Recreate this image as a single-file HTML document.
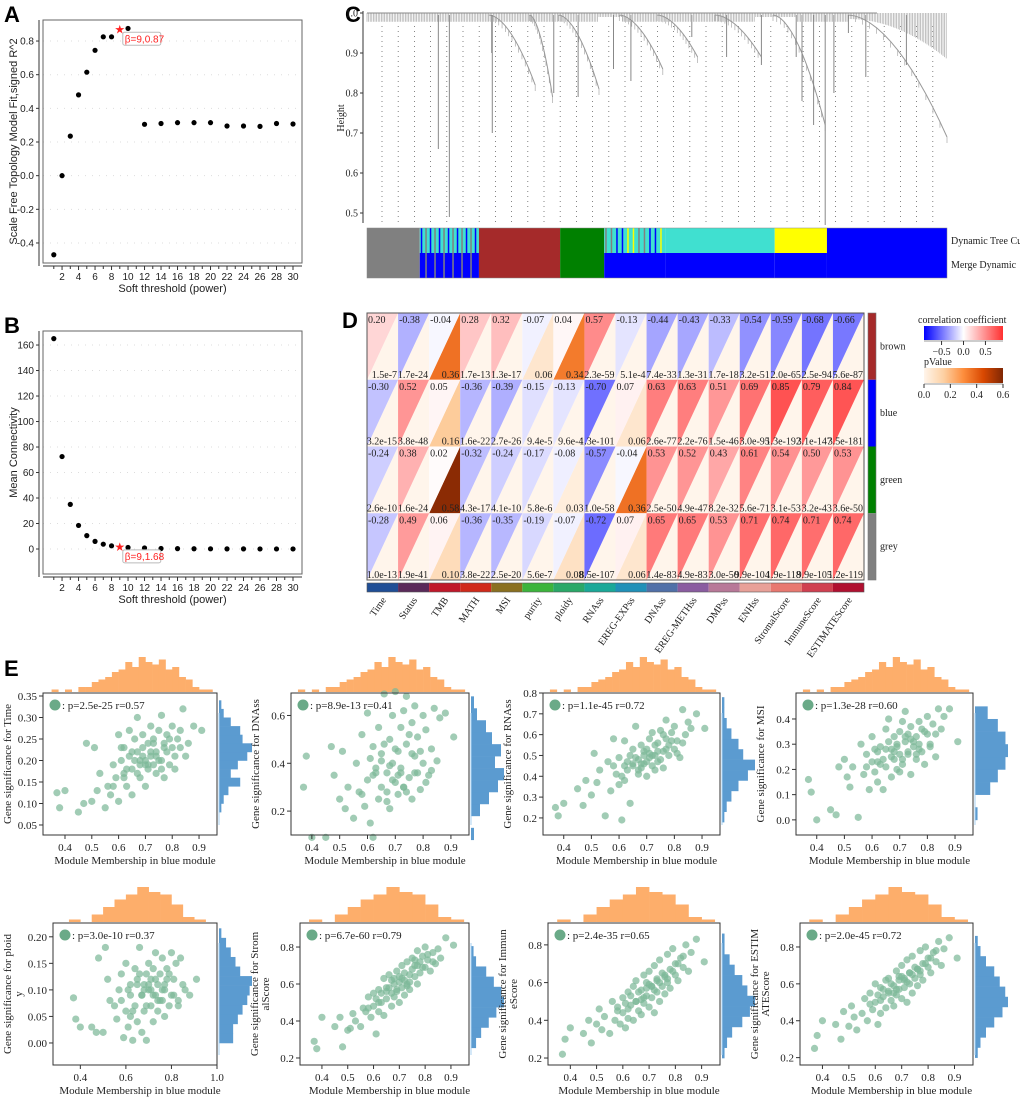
<!DOCTYPE html>
<html><head><meta charset="utf-8"><style>
body{margin:0;background:#fff}
svg{display:block}
text{font-family:"Liberation Serif",serif;fill:#222}
.sans{font-family:"Liberation Sans",sans-serif}
.pl{font-family:"Liberation Sans",sans-serif;font-weight:bold;font-size:22px;fill:#000}
</style></head><body>
<svg id="fig" width="1020" height="1098" viewBox="0 0 1020 1098" xmlns="http://www.w3.org/2000/svg">
<text class="pl" x="4" y="22">A</text>
<text class="pl" x="4" y="333">B</text>
<text class="pl" x="345" y="22">C</text>
<text class="pl" x="342" y="328">D</text>
<text class="pl" x="4" y="676">E</text>
<g id="gA"></g>
<g id="gB"></g>
<g id="gC"></g>
<g id="gD"></g>
<g id="gE"></g>
</svg>
<script>
// ---------- Panel A/B data ----------
const powers = [1,2,3,4,5,6,7,8,9,10,12,14,16,18,20,22,24,26,28,30];
const fitR2 = [-0.47,0.0,0.235,0.48,0.615,0.745,0.825,0.825,0.87,0.875,0.305,0.31,0.315,0.315,0.315,0.295,0.295,0.293,0.31,0.307];
const meanK = [165,72.5,35,18.5,10.5,6,3.8,2.5,1.68,1.2,0.8,0.4,0.3,0.2,0.15,0.1,0.1,0.05,0.05,0.05];
const xTicksAB = [2,4,6,8,10,12,14,16,18,20,22,24,26,28,30];
const yTicksA = [-0.4,-0.2,0.0,0.2,0.4,0.6,0.8];
const yTicksB = [0,20,40,60,80,100,120,140,160];
// ---------- Panel C data ----------
const cTicks = [0.5,0.6,0.7,0.8,0.9,1.0];
const treeModules = ["grey","mixA","brown","green","mixB","turquoise","yellow","blue"];
const treeModuleEnds = [0.091,0.193,0.333,0.409,0.514,0.703,0.793,1.0];
const dropLeaves = [[0.123,0.66],[0.142,0.49],[0.215,0.90],[0.216,0.70],[0.322,0.80],[0.364,0.79],[0.425,0.86],[0.455,0.83],[0.56,0.94],[0.62,0.89],[0.68,0.87],[0.74,0.89],[0.75,0.78],[0.77,0.72],[0.79,0.47],[0.805,0.80],[0.83,0.95],[0.86,0.84],[0.93,0.87]];
const descClusters = [[0.21,0.29,0.82],[0.28,0.32,0.79],[0.33,0.40,0.81],[0.435,0.51,0.86],[0.50,0.57,0.89],[0.60,0.68,0.89],[0.70,0.79,0.72],[0.83,1.0,0.69]];
// ---------- Panel D data ----------
const traits = ["Time","Status","TMB","MATH","MSI","purity","ploidy","RNAss","EREG-EXPss","DNAss","EREG-METHss","DMPss","ENHss","StromalScore","ImmuneScore","ESTIMATEScore"];
const modules = ["brown","blue","green","grey"];
const corrBrown = [0.20,-0.38,-0.04,0.28,0.32,-0.07,0.04,0.57,-0.13,-0.44,-0.43,-0.33,-0.54,-0.59,-0.68,-0.66];
const corrBlue = [-0.30,0.52,0.05,-0.36,-0.39,-0.15,-0.13,-0.70,0.07,0.63,0.63,0.51,0.69,0.85,0.79,0.84];
const corrGreen = [-0.24,0.38,0.02,-0.32,-0.24,-0.17,-0.08,-0.57,-0.04,0.53,0.52,0.43,0.61,0.54,0.50,0.53];
const corrGrey = [-0.28,0.49,0.06,-0.36,-0.35,-0.19,-0.07,-0.72,0.07,0.65,0.65,0.53,0.71,0.74,0.71,0.74];
const pBrown = ["1.5e-7","1.7e-24","0.36","1.7e-13","1.3e-17","0.06","0.34","2.3e-59","5.1e-4","7.4e-33","1.3e-31","1.7e-18","3.2e-51","2.0e-65","2.5e-94","5.6e-87"];
const pBlue = ["3.2e-15","3.8e-48","0.16","1.6e-22","2.7e-26","9.4e-5","9.6e-4","1.3e-101","0.06","2.6e-77","2.2e-76","1.5e-46","3.0e-95","1.3e-192","3.1e-147","3.5e-181"];
const pGreen = ["2.6e-10","1.6e-24","0.58","4.3e-17","4.1e-10","5.8e-6","0.03","1.0e-58","0.36","2.5e-50","4.9e-47","8.2e-32","5.6e-71","3.1e-53","3.2e-43","3.6e-50"];
const pGrey = ["1.0e-13","1.9e-41","0.10","3.8e-22","2.5e-20","5.6e-7","0.08","8.5e-107","0.06","1.4e-83","4.9e-83","3.0e-50","9.9e-104","1.9e-118","9.9e-105","1.2e-119"];
// ---------- Panel E data ----------
const mmBlue = [0.37,0.38,0.40,0.45,0.47,0.48,0.50,0.51,0.52,0.53,0.55,0.56,0.57,0.58,0.59,0.60,0.60,0.61,0.62,0.62,0.63,0.64,0.64,0.65,0.65,0.66,0.67,0.67,0.68,0.68,0.69,0.69,0.70,0.70,0.71,0.71,0.72,0.72,0.73,0.73,0.74,0.74,0.75,0.76,0.76,0.77,0.77,0.78,0.78,0.79,0.80,0.80,0.81,0.82,0.83,0.84,0.85,0.86,0.88,0.91,0.58,0.61,0.63,0.66,0.67,0.69,0.70,0.72,0.73,0.75,0.77,0.79,0.81,0.62,0.68,0.74,0.76,0.83,0.65,0.71];
const gsTime = [0.125,0.09,0.13,0.08,0.10,0.24,0.105,0.23,0.13,0.17,0.09,0.14,0.12,0.19,0.16,0.26,0.105,0.20,0.17,0.23,0.14,0.21,0.27,0.18,0.12,0.25,0.22,0.30,0.19,0.16,0.21,0.26,0.20,0.14,0.24,0.18,0.28,0.22,0.19,0.25,0.17,0.21,0.27,0.20,0.305,0.24,0.16,0.22,0.26,0.19,0.28,0.23,0.18,0.25,0.27,0.32,0.21,0.24,0.28,0.27,0.14,0.23,0.18,0.20,0.17,0.23,0.19,0.21,0.24,0.20,0.23,0.25,0.21,0.16,0.20,0.22,0.18,0.23,0.22,0.19];
const gsDNAss = [0.30,0.43,0.09,0.09,0.47,0.35,0.25,0.45,0.21,0.30,0.17,0.40,0.28,0.52,0.22,0.61,0.33,0.15,0.47,0.09,0.38,0.25,0.55,0.30,0.44,0.69,0.36,0.28,0.50,0.21,0.40,0.60,0.32,0.70,0.45,0.27,0.55,0.36,0.62,0.30,0.48,0.68,0.34,0.57,0.25,0.43,0.64,0.36,0.51,0.29,0.60,0.40,0.54,0.35,0.46,0.63,0.41,0.59,0.61,0.51,0.27,0.42,0.36,0.48,0.24,0.33,0.46,0.38,0.30,0.52,0.36,0.45,0.32,0.35,0.39,0.28,0.44,0.37,0.41,0.35];
const gsRNAss = [0.25,0.21,0.27,0.34,0.26,0.38,0.31,0.51,0.37,0.43,0.21,0.47,0.33,0.58,0.41,0.36,0.49,0.19,0.45,0.57,0.43,0.27,0.50,0.46,0.53,0.64,0.48,0.41,0.55,0.44,0.50,0.46,0.53,0.40,0.49,0.58,0.45,0.61,0.50,0.43,0.56,0.47,0.62,0.52,0.44,0.58,0.67,0.50,0.55,0.61,0.53,0.64,0.57,0.49,0.72,0.60,0.66,0.63,0.70,0.63,0.45,0.40,0.47,0.49,0.43,0.52,0.47,0.50,0.55,0.48,0.53,0.57,0.51,0.38,0.46,0.52,0.60,0.56,0.45,0.51];
const gsMSI = [0.16,0.11,0.00,0.04,0.02,0.21,0.24,0.17,0.13,0.21,0.01,0.30,0.18,0.26,0.12,0.23,0.33,0.19,0.27,0.15,0.29,0.12,0.24,0.36,0.21,0.40,0.28,0.17,0.33,0.24,0.30,0.20,0.35,0.26,0.39,0.22,0.43,0.31,0.27,0.34,0.18,0.37,0.29,0.33,0.24,0.39,0.30,0.27,0.36,0.22,0.41,0.34,0.29,0.38,0.25,0.44,0.36,0.41,0.44,0.31,0.21,0.28,0.22,0.31,0.25,0.29,0.19,0.33,0.26,0.31,0.28,0.35,0.30,0.23,0.27,0.32,0.26,0.34,0.28,0.24];
const gsPloidy = [0.085,0.045,0.03,0.03,0.02,0.16,0.02,0.18,0.12,0.08,0.07,0.045,0.10,0.13,0.01,0.06,0.15,0.03,0.11,0.09,0.005,0.14,0.07,0.12,0.04,0.18,0.09,0.02,0.11,0.06,0.13,0.005,0.10,0.15,0.07,0.12,0.04,0.14,0.09,0.17,0.06,0.11,0.13,0.08,0.16,0.10,0.05,0.14,0.12,0.07,0.17,0.09,0.12,0.15,0.08,0.16,0.11,0.10,0.09,0.12,0.08,0.10,0.06,0.13,0.09,0.07,0.11,0.09,0.12,0.08,0.11,0.13,0.09,0.05,0.10,0.08,0.10,0.07,0.11,0.10];
const gsStromal = [0.29,0.25,0.42,0.37,0.42,0.26,0.35,0.36,0.44,0.40,0.37,0.47,0.45,0.53,0.42,0.55,0.48,0.33,0.57,0.45,0.50,0.63,0.43,0.52,0.58,0.65,0.55,0.48,0.60,0.53,0.67,0.56,0.61,0.50,0.70,0.58,0.62,0.54,0.72,0.60,0.65,0.57,0.74,0.64,0.70,0.60,0.78,0.66,0.72,0.75,0.69,0.80,0.73,0.67,0.77,0.71,0.79,0.74,0.85,0.81,0.47,0.52,0.55,0.58,0.62,0.57,0.64,0.66,0.59,0.68,0.70,0.69,0.76,0.50,0.63,0.61,0.73,0.72,0.56,0.63];
const gsImmune = [0.22,0.30,0.36,0.33,0.40,0.28,0.38,0.46,0.35,0.42,0.33,0.50,0.40,0.47,0.38,0.52,0.44,0.36,0.55,0.41,0.48,0.58,0.40,0.50,0.61,0.45,0.56,0.43,0.64,0.49,0.53,0.60,0.47,0.66,0.52,0.58,0.44,0.69,0.55,0.62,0.50,0.72,0.58,0.63,0.54,0.75,0.60,0.67,0.57,0.78,0.64,0.70,0.61,0.73,0.68,0.80,0.66,0.76,0.83,0.71,0.45,0.49,0.53,0.55,0.51,0.57,0.59,0.56,0.61,0.65,0.62,0.66,0.70,0.46,0.52,0.60,0.64,0.74,0.50,0.58];
const gsEstimate = [0.25,0.32,0.40,0.38,0.30,0.45,0.37,0.48,0.42,0.35,0.44,0.52,0.40,0.55,0.46,0.60,0.50,0.38,0.58,0.44,0.53,0.62,0.47,0.56,0.63,0.51,0.59,0.48,0.67,0.54,0.57,0.64,0.52,0.70,0.58,0.62,0.50,0.73,0.60,0.66,0.55,0.75,0.63,0.68,0.59,0.78,0.65,0.71,0.62,0.80,0.69,0.74,0.66,0.77,0.72,0.83,0.70,0.79,0.85,0.74,0.49,0.54,0.57,0.60,0.55,0.62,0.64,0.61,0.66,0.69,0.67,0.71,0.74,0.51,0.57,0.65,0.68,0.78,0.55,0.63];
const mmHistRow1 = [1,0,1,0,2,2,4,5,6,8,9,12,10,14,12,11,13,9,10,6,5,2,1,1];
const mmHistRow2 = [1,0,3,6,9,11,14,12,11,7,2,1];
const gsHistTime = [1,2,4,9,5,8,12,14,10,9,5,2,1];
const gsHistDNAss = [1,0,3,6,9,11,8,10,7,5,2,1];
const gsHistRNAss = [1,2,4,7,11,14,9,7,4,2,1,1];
const gsHistMSI = [1,0,6,9,12,13,12,9,5];
const gsHistPloidy = [6,6,8,10,12,13,14,9,7,5,3,1];
const gsHistStromal = [0,2,4,7,10,13,12,9,6,2,1,0];
const gsHistImmune = [1,2,4,8,11,13,10,8,5,3,1,1];
const gsHistEstimate = [1,2,4,7,10,12,11,9,7,4,2,1];

const NS="http://www.w3.org/2000/svg";
function mk(parent,tag,attrs,txt){const e=document.createElementNS(NS,tag);for(const k in attrs)e.setAttribute(k,attrs[k]);if(txt!==undefined)e.textContent=txt;parent.appendChild(e);return e;}
function lin(d0,d1,r0,r1){return v=>r0+(v-d0)/(d1-d0)*(r1-r0);}

// ---------- A & B ----------
function powerPanel(g,box,yd,yt,vals,ylab,lbl,fmt){
  const sx=lin(1,30,53.8,293), sy=lin(yd[0],yd[1],box.b,box.t);
  for(const t of yt){const l=mk(g,'line',{x1:box.l,x2:box.r,y1:sy(t),y2:sy(t),stroke:'#ddd','stroke-dasharray':'1,6'});}
  const fr=mk(g,'rect',{x:box.l,y:box.t,width:box.r-box.l,height:box.b-box.t,fill:'none',stroke:'#666','stroke-width':1});
  
  mk(g,'line',{x1:box.l-4,x2:box.l-4,y1:box.t,y2:box.b+3,stroke:'#333'});
  mk(g,'line',{x1:box.l,x2:box.r,y1:box.b+3,y2:box.b+3,stroke:'#333'});
  for(const t of yt){const y=sy(t);mk(g,'line',{x1:box.l-7,x2:box.l-4,y1:y,y2:y,stroke:'#333'});
    const tx=mk(g,'text',{x:box.l-9,y:y+3.5,'text-anchor':'end','font-size':10,class:'sans'},fmt(t));}
  for(let p=1;p<=30;p++){const x=sx(p);mk(g,'line',{x1:x,x2:x,y1:box.b+3,y2:box.b+(p%2?6:7),stroke:'#333'});}
  for(const t of xTicksAB){const tx=mk(g,'text',{x:sx(t),y:box.b+17,'text-anchor':'middle','font-size':10,class:'sans'},t);}
  const xt=mk(g,'text',{x:(box.l+box.r)/2,y:box.b+29,'text-anchor':'middle','font-size':11,class:'sans'},'Soft threshold (power)');
  
  const yl=mk(g,'text',{x:0,y:0,'text-anchor':'middle','font-size':11,class:'sans',transform:`translate(${box.l-26},${(box.t+box.b)/2}) rotate(-90)`},ylab);
  
  powers.forEach((p,i)=>{
    if(p===9){const s=mk(g,'text',{x:sx(p),y:sy(vals[i])+4,'text-anchor':'middle','font-size':12,style:'fill:#f22'},'★');return;}
    const c=mk(g,'circle',{cx:sx(p),cy:sy(vals[i]),r:2.6,fill:'#000'});
  });
  const i9=powers.indexOf(9);const lx=sx(9)+3,ly=sy(vals[i9])+3;
  const rb=mk(g,'rect',{x:lx,y:ly,width:38,height:13,rx:2,fill:'#fff',stroke:'#bbb'});
  const at=mk(g,'text',{x:lx+2,y:ly+10,'font-size':10,class:'sans',style:'fill:#f22'},lbl);
}
powerPanel(document.getElementById('gA'),{l:43,r:302,t:20,b:263},[-0.519,0.925],yTicksA,fitR2,'Scale Free Topology Model Fit,signed R^2','β=9,0.87',t=>t.toFixed(1));
powerPanel(document.getElementById('gB'),{l:43,r:302,t:331,b:574},[-19.6,171],yTicksB,meanK,'Mean Connectivity','β=9,1.68',t=>t);

// ---------- C ----------
(function(){
  const g=document.getElementById('gC');const L=367,R=947;
  const sy=lin(0.5,1.0,213,13), fx=f=>L+f*(R-L);
  for(let x=382;x<R;x+=16.2){const l=mk(g,'line',{x1:x,x2:x,y1:26,y2:223,stroke:'#666','stroke-dasharray':'1,4','stroke-width':0.8});}
  mk(g,'line',{x1:L-4,x2:L-4,y1:11,y2:223,stroke:'#333'});
  for(const t of cTicks){const y=sy(t);mk(g,'line',{x1:L-7,x2:L-4,y1:y,y2:y,stroke:'#333'});
    const tx=mk(g,'text',{x:L-9,y:y+3.5,'text-anchor':'end','font-size':10},t.toFixed(1));}
  const yl=mk(g,'text',{x:0,y:0,'text-anchor':'middle','font-size':10,transform:`translate(${L-23},118) rotate(-90)`},'Height');
  
  for(let x=L;x<R;x+=1.6){const f=(x-L)/(R-L);const bot=(f>0.4&&f<0.44)||(f>0.67&&f<0.74)?0.99:(f>0.83?0.985-0.1*Math.pow((f-0.83)/0.17,2):0.978);
    mk(g,'line',{x1:x,x2:x,y1:sy(1.0),y2:sy(bot),stroke:'#aaa','stroke-width':0.7});}
  mk(g,'line',{x1:L,x2:R-70,y1:sy(1.0),y2:sy(1.0),stroke:'#888','stroke-width':1});
  for(const c of descClusters){const x0=fx(c[0]),x1=fx(c[1]);let pts=[];const n=14;
    for(let i=0;i<=n;i++){const t=i/n;const x=x0+(x1-x0)*t;const h=0.995-(0.995-c[2])*Math.pow(t,1.8);pts.push(x+','+sy(h));
      mk(g,'line',{x1:x,x2:x,y1:sy(h),y2:sy(h-0.015),stroke:'#aaa','stroke-width':0.7});}
    const pl=mk(g,'polyline',{points:pts.join(' '),fill:'none',stroke:'#999','stroke-width':1});}
  for(const d of dropLeaves){const l=mk(g,'line',{x1:fx(d[0]),x2:fx(d[0]),y1:sy(0.995),y2:sy(d[1]),stroke:'#888','stroke-width':1});}
  const col={grey:'#808080',brown:'#a52a2a',green:'#008000',turquoise:'#40e0d0',yellow:'#ffff00',blue:'#0000ff'};
  const Y1=228,H1=25,Y2=253,H2=25;
  let prev=0;
  treeModules.forEach((m,i)=>{const x0=fx(prev),x1=fx(treeModuleEnds[i]);prev=treeModuleEnds[i];
    if(m==='mixA'||m==='mixB'){
      const r=mk(g,'rect',{x:x0,y:Y1,width:x1-x0,height:H1,fill:'#40e0d0'});
      mk(g,'rect',{x:x0,y:Y2,width:x1-x0,height:H2,fill:'#0000ff'});
      for(let x=x0+1;x<x1-4;x+=(m==='mixA'?4.5:5.5)){const k=Math.round(x)%3;mk(g,'rect',{x:x,y:Y1,width:1.5,height:H1,fill:k===0?'#ffff00':(k===1?'#0000ff':'#808080')});
        if(m==='mixA'&&k!==1)mk(g,'rect',{x:x,y:Y2,width:1.5,height:H2,fill:'#808080'});}
    } else {
      const r=mk(g,'rect',{x:x0,y:Y1,width:x1-x0,height:H1,fill:col[m]});
      const mm=(m==='turquoise'||m==='yellow')?'blue':m;
      const r2=mk(g,'rect',{x:x0,y:Y2,width:x1-x0,height:H2,fill:col[mm]});
    }
  });
  mk(g,'rect',{x:L,y:Y1,width:R-L,height:H1+H2,fill:'none',stroke:'#888','stroke-width':0.5});
  const t1=mk(g,'text',{x:951,y:244,'font-size':10},'Dynamic Tree Cut');
  const t2=mk(g,'text',{x:951,y:268,'font-size':10},'Merge Dynamic');
})();

// ---------- D ----------
(function(){
  const g=document.getElementById('gD');
  const L=367,R=864,T=313,B=580;const cw=(R-L)/traits.length, rh=(B-T)/modules.length;
  const corr=[corrBrown,corrBlue,corrGreen,corrGrey], pv=[pBrown,pBlue,pGreen,pGrey];
  function cc(r){const a=Math.min(1,Math.abs(r))*0.8;const k=Math.round(255*(1-a));return r>=0?`rgb(255,${k},${k})`:`rgb(${k},${k},255)`;}
  const ostops=[[255,245,235],[253,208,162],[253,141,60],[217,72,1],[127,39,4]];
  function pc(p){let t=Math.min(1,p/0.6)*(ostops.length-1);const i=Math.min(ostops.length-2,Math.floor(t));const f=t-i;const a=ostops[i],b=ostops[i+1];return `rgb(${a.map((v,j)=>Math.round(v+(b[j]-v)*f)).join(',')})`;}
  modules.forEach((m,ri)=>{traits.forEach((tr,ci)=>{
    const x0=L+ci*cw,x1=x0+cw,y0=T+ri*rh,y1=y0+rh;const r=corr[ri][ci];const p=parseFloat(pv[ri][ci]);
    const lo=mk(g,'polygon',{points:`${x1},${y0} ${x1},${y1} ${x0},${y1}`,fill:pc(p)});
    const up=mk(g,'polygon',{points:`${x0},${y0} ${x1},${y0} ${x0},${y1}`,fill:cc(r)});
    const t1=mk(g,'text',{x:x0+1,y:y0+10,'font-size':10},r.toFixed(2));
    const t2=mk(g,'text',{x:x1-1,y:y1-2,'font-size':10,'text-anchor':'end'},pv[ri][ci]);
  });
    const mb=mk(g,'rect',{x:868,y:T+ri*rh,width:8,height:rh,fill:{brown:'#a52a2a',blue:'#0000ff',green:'#008000',grey:'#808080'}[m]});
    const ml=mk(g,'text',{x:880,y:T+ri*rh+rh/2+3,'font-size':10},m);
  });
  mk(g,'rect',{x:L,y:T,width:R-L,height:B-T,fill:'none',stroke:'#555','stroke-width':1});
  mk(g,'rect',{x:868,y:T,width:8,height:B-T,fill:'none',stroke:'#777','stroke-width':0.6});
  const tcol=['#1f4e96','#5a2a5a','#c0182a','#d02a1a','#8a7020','#3cb43c','#2aa868','#1aa898','#2090b8','#5070a8','#8a5ca0','#b87898','#e8a098','#e87870','#d04050','#b01030'];
  traits.forEach((tr,ci)=>{const x0=L+ci*cw;
    const s=mk(g,'rect',{x:x0,y:583,width:cw,height:9,fill:tcol[ci]});
    const t=mk(g,'text',{x:0,y:0,'font-size':10,'text-anchor':'end',transform:`translate(${x0+cw/2+4},${600}) rotate(-55)`},tr);});
  mk(g,'rect',{x:L,y:583,width:R-L,height:9,fill:'none',stroke:'#555','stroke-width':0.6});
  const defs=mk(g,'defs',{});
  const lg1=mk(defs,'linearGradient',{id:'gc'});[['0','#0000ff'],['0.5','#ffffff'],['1','#ff3030']].forEach(s=>mk(lg1,'stop',{offset:s[0],'stop-color':s[1]}));
  const lg2=mk(defs,'linearGradient',{id:'gp'});ostops.forEach((s,i)=>mk(lg2,'stop',{offset:i/4,'stop-color':`rgb(${s.join(',')})`}));
  const l1=mk(g,'text',{x:918,y:323,'font-size':10},'correlation coefficient');
  const gr1=mk(g,'rect',{x:924,y:326,width:79,height:14,fill:'url(#gc)'});
  mk(g,'line',{x1:924,x2:1003,y1:341,y2:341,stroke:'#333','stroke-width':0.6});
  const cl=lin(-0.9,0.9,924,1003);[[-0.5,'−0.5'],[0,'0.0'],[0.5,'0.5']].forEach(t=>{mk(g,'line',{x1:cl(t[0]),x2:cl(t[0]),y1:341,y2:345,stroke:'#333'});const tx=mk(g,'text',{x:cl(t[0]),y:355,'text-anchor':'middle','font-size':10},t[1]);});
  const l2=mk(g,'text',{x:924,y:365,'font-size':10},'pValue');
  const gr2=mk(g,'rect',{x:924,y:368,width:79,height:15,fill:'url(#gp)'});
  mk(g,'line',{x1:924,x2:1003,y1:384,y2:384,stroke:'#333','stroke-width':0.6});
  const pl=lin(0,0.6,924,1003);[0,0.2,0.4,0.6].forEach(t=>{mk(g,'line',{x1:pl(t),x2:pl(t),y1:384,y2:388,stroke:'#333'});const tx=mk(g,'text',{x:pl(t),y:398,'text-anchor':'middle','font-size':10},t.toFixed(1));});
})();

// ---------- E ----------
const ePlots=[
 {l:43,r:217,t:693,b:835,xd:[0.318,0.967],xt:[0.4,0.5,0.6,0.7,0.8,0.9],yd:[0.0267,0.357],yt:[0.05,0.10,0.15,0.20,0.25,0.30,0.35],yf:2,ys:gsTime,yh:gsHistTime,h0:0.08,hw:0.02,xh:mmHistRow1,lab:['Gene significance for Time'],st:'p=2.5e-25 r=0.57'},
 {l:291,r:469,t:693,b:835,xd:[0.325,0.965],xt:[0.4,0.5,0.6,0.7,0.8,0.9],yd:[0.1,0.694],yt:[0.2,0.4,0.6],yf:1,ys:gsDNAss,yh:gsHistDNAss,h0:0.08,hw:0.05,xh:mmHistRow1,lab:['Gene significance for DNAss'],st:'p=8.9e-13 r=0.41'},
 {l:543,r:720,t:693,b:835,xd:[0.325,0.965],xt:[0.4,0.5,0.6,0.7,0.8,0.9],yd:[0.118,0.8],yt:[0.2,0.3,0.4,0.5,0.6,0.7,0.8],yf:1,ys:gsRNAss,yh:gsHistRNAss,h0:0.18,hw:0.05,xh:mmHistRow1,lab:['Gene significance for RNAss'],st:'p=1.1e-45 r=0.72'},
 {l:796,r:973,t:693,b:835,xd:[0.325,0.965],xt:[0.4,0.5,0.6,0.7,0.8,0.9],yd:[-0.06,0.503],yt:[0.0,0.1,0.2,0.3,0.4],yf:1,ys:gsMSI,yh:gsHistMSI,h0:0.0,hw:0.05,xh:mmHistRow1,lab:['Gene significance for MSI'],st:'p=1.3e-28 r=0.60'},
 {l:53,r:217,t:923,b:1065,xd:[0.28,1.0],xt:[0.4,0.6,0.8,1.0],yd:[-0.0415,0.226],yt:[0,0.05,0.10,0.15,0.20],yf:2,ys:gsPloidy,yh:gsHistPloidy,h0:0.0,hw:0.018,xh:mmHistRow2,lab:['Gene significance for ploid','y'],st:'p=3.0e-10 r=0.37'},
 {l:300,r:469,t:923,b:1065,xd:[0.315,0.97],xt:[0.4,0.5,0.6,0.7,0.8,0.9],yd:[0.162,0.93],yt:[0.2,0.4,0.6,0.8],yf:1,ys:gsStromal,yh:gsHistStromal,h0:0.2,hw:0.055,xh:mmHistRow2,lab:['Gene significance for Strom','alScore'],st:'p=6.7e-60 r=0.79'},
 {l:548,r:720,t:923,b:1065,xd:[0.315,0.97],xt:[0.4,0.5,0.6,0.7,0.8,0.9],yd:[0.163,0.916],yt:[0.2,0.4,0.6,0.8],yf:1,ys:gsImmune,yh:gsHistImmune,h0:0.2,hw:0.055,xh:mmHistRow2,lab:['Gene significance for Immun','eScore'],st:'p=2.4e-35 r=0.65'},
 {l:800,r:973,t:923,b:1065,xd:[0.315,0.97],xt:[0.4,0.5,0.6,0.7,0.8,0.9],yd:[0.16,0.93],yt:[0.2,0.4,0.6,0.8],yf:1,ys:gsEstimate,yh:gsHistEstimate,h0:0.2,hw:0.055,xh:mmHistRow2,lab:['Gene significance for ESTIM','ATEScore'],st:'p=2.0e-45 r=0.72'}
];
(function(){
  const G=document.getElementById('gE');
  ePlots.forEach((P,pi)=>{
    const g=mk(G,'g',{});
    const sx=lin(P.xd[0],P.xd[1],P.l,P.r), sy=lin(P.yd[0],P.yd[1],P.b,P.t);
    const hx0=0.35, hxw=(0.95-0.35)/P.xh.length, hmax=Math.max(...P.xh);
    P.xh.forEach((c,i)=>{if(!c)return;const x0=sx(hx0+i*hxw),x1=sx(hx0+(i+1)*hxw),h=c/hmax*35;
      const r=mk(g,'rect',{x:x0,y:P.t-1-h,width:x1-x0+0.3,height:h,fill:'#fdae6b'});});
    const ymax=Math.max(...P.yh);
    P.yh.forEach((c,i)=>{if(!c)return;const y0=sy(P.h0+(i+1)*P.hw),y1=sy(P.h0+i*P.hw),w=c/ymax*33;
      const r=mk(g,'rect',{x:P.r+2,y:y0,width:w,height:y1-y0+0.3,fill:'#5b9bd0'});});
    mk(g,'line',{x1:P.r+2,x2:P.r+2,y1:P.t+20,y2:P.b-10,stroke:'#a8d0f0','stroke-width':1});
    mmBlue.forEach((x,i)=>{const c=mk(g,'circle',{cx:sx(x),cy:sy(P.ys[i]),r:3.6,fill:'#7db898','fill-opacity':0.72});});
    const fr=mk(g,'rect',{x:P.l,y:P.t,width:P.r-P.l,height:P.b-P.t,fill:'none',stroke:'#333','stroke-width':1});
    P.yt.forEach(t=>{const y=sy(t);mk(g,'line',{x1:P.l-4,x2:P.l,y1:y,y2:y,stroke:'#333'});
      const tx=mk(g,'text',{x:P.l-6,y:y+4,'text-anchor':'end','font-size':11},t.toFixed(P.yf));});
    P.xt.forEach(t=>{const x=sx(t);mk(g,'line',{x1:x,x2:x,y1:P.b,y2:P.b+4,stroke:'#333'});
      const tx=mk(g,'text',{x:x,y:P.b+16,'text-anchor':'middle','font-size':11},t.toFixed(1));});
    const xt=mk(g,'text',{x:(P.l+P.r)/2+5,y:P.b+29,'text-anchor':'middle','font-size':11},'Module Membership in blue module');
    const lx=P.l-(P.lab.length>1?42:32);
    P.lab.forEach((s,k)=>{const t=mk(g,'text',{x:0,y:0,'text-anchor':'middle','font-size':11,transform:`translate(${lx+k*11},${(P.t+P.b)/2}) rotate(-90)`},s);});
    const lm=mk(g,'circle',{cx:P.l+12,cy:P.t+12,r:5.5,fill:'#6aaa88'});
    const lt=mk(g,'text',{x:P.l+19,y:P.t+16,'font-size':11},': '+P.st);
  });
})();
</script>
</body></html>
